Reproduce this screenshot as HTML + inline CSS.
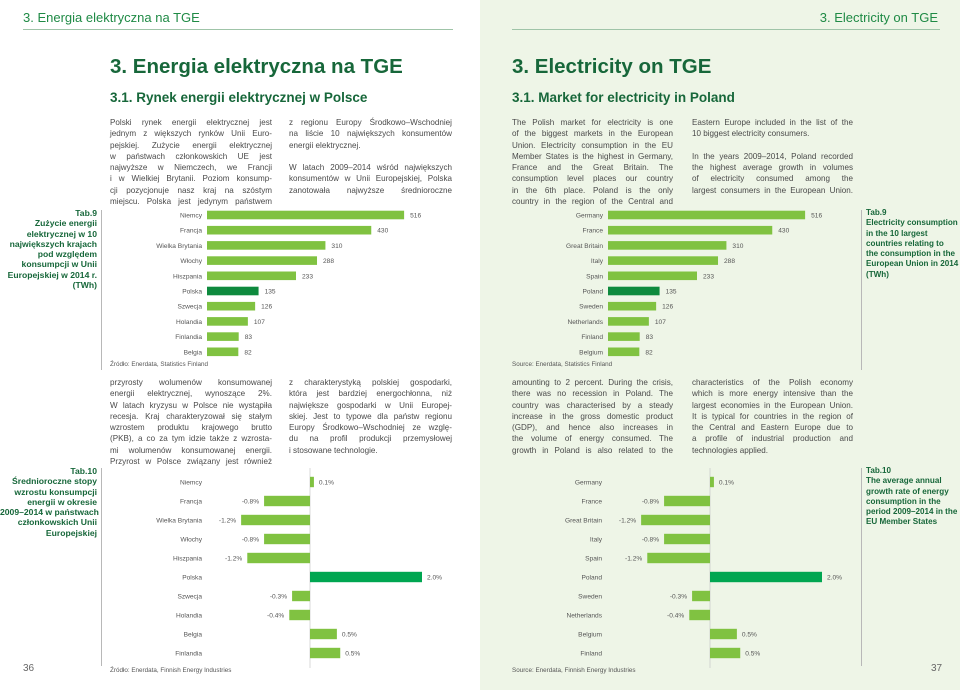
<!DOCTYPE html>
<html><head><meta charset="utf-8">
<style>
body{margin:0;width:960px;height:690px;position:relative;overflow:hidden;font-family:"Liberation Sans",sans-serif;background:#fff}
.abs{position:absolute}
.rp{left:480px;top:0;width:480px;height:690px;background:#eef5e7}
.hdr{font-size:13px;color:#1f8a45;top:10px}
.rule{height:1px;background:#9fc4a8;top:29px}
.title{font-size:20.5px;font-weight:bold;color:#17673a;top:55px}
.sub{font-size:13.5px;font-weight:bold;color:#17673a;top:90px}
.body{font-size:8.1px;line-height:11.3px;color:#4a4a4a}
.body div{white-space:nowrap;text-align:justify;text-align-last:justify;height:11.3px}
.body div.l{text-align-last:left}
.body div.gap{height:11.3px}
.cap{font-size:8.6px;line-height:10.3px;font-weight:bold;color:#17673a;white-space:nowrap}
.capr{font-size:8.1px}
.vl{width:1px;background:#b8b8b8}
.src{font-size:6.3px;color:#555}
.pn{font-size:10px;color:#666}
</style></head><body>
<div class="abs rp"></div>
<div class="abs hdr" style="left:23px">3. Energia elektryczna na TGE</div>
<div class="abs rule" style="left:23px;width:430px"></div>
<div class="abs hdr" style="right:22px">3. Electricity on TGE</div>
<div class="abs rule" style="left:512px;width:428px"></div>
<div class="abs title" style="left:110px">3. Energia elektryczna na TGE</div>
<div class="abs title" style="left:512px">3. Electricity on TGE</div>
<div class="abs sub" style="left:110px">3.1. Rynek energii elektrycznej w Polsce</div>
<div class="abs sub" style="left:512px">3.1. Market for electricity in Poland</div>

<div class="abs body" style="left:110px;top:117px;width:162px">
<div>Polski rynek energii elektrycznej jest</div><div>jednym z większych rynków Unii Euro-</div><div>pejskiej. Zużycie energii elektrycznej</div><div>w państwach członkowskich UE jest</div><div>najwyższe w Niemczech, we Francji</div><div>i w Wielkiej Brytanii. Poziom konsump-</div><div>cji pozycjonuje nasz kraj na szóstym</div><div>miejscu. Polska jest jedynym państwem</div></div>
<div class="abs body" style="left:289px;top:117px;width:163px">
<div>z regionu Europy Środkowo–Wschodniej</div><div>na liście 10 największych konsumentów</div><div class="l">energii elektrycznej.</div><div class="gap"></div><div>W latach 2009–2014 wśród największych</div><div>konsumentów w Unii Europejskiej, Polska</div><div>zanotowała najwyższe średnioroczne</div></div>
<div class="abs body" style="left:512px;top:117px;width:161px">
<div>The Polish market for electricity is one</div><div>of the biggest markets in the European</div><div>Union. Electricity consumption in the EU</div><div>Member States is the highest in Germany,</div><div>France and the Great Britain. The</div><div>consumption level places our country</div><div>in the 6th place. Poland is the only</div><div>country in the region of the Central and</div></div>
<div class="abs body" style="left:692px;top:117px;width:161px">
<div>Eastern Europe included in the list of the</div><div class="l">10 biggest electricity consumers.</div><div class="gap"></div><div>In the years 2009–2014, Poland recorded</div><div>the highest average growth in volumes</div><div>of electricity consumed among the</div><div>largest consumers in the European Union.</div></div>

<div class="abs body" style="left:110px;top:377px;width:162px">
<div>przyrosty wolumenów konsumowanej</div><div>energii elektrycznej, wynoszące 2%.</div><div>W latach kryzysu w Polsce nie wystąpiła</div><div>recesja. Kraj charakteryzował się stałym</div><div>wzrostem produktu krajowego brutto</div><div>(PKB), a co za tym idzie także z wzrosta-</div><div>mi wolumenów konsumowanej energii.</div><div>Przyrost w Polsce związany jest również</div></div>
<div class="abs body" style="left:289px;top:377px;width:163px">
<div>z charakterystyką polskiej gospodarki,</div><div>która jest bardziej energochłonna, niż</div><div>największe gospodarki w Unii Europej-</div><div>skiej. Jest to typowe dla państw regionu</div><div>Europy Środkowo–Wschodniej ze wzglę-</div><div>du na profil produkcji przemysłowej</div><div class="l">i stosowane technologie.</div></div>
<div class="abs body" style="left:512px;top:377px;width:161px">
<div>amounting to 2 percent. During the crisis,</div><div>there was no recession in Poland. The</div><div>country was characterised by a steady</div><div>increase in the gross domestic product</div><div>(GDP), and hence also increases in</div><div>the volume of energy consumed. The</div><div>growth in Poland is also related to the</div></div>
<div class="abs body" style="left:692px;top:377px;width:161px">
<div>characteristics of the Polish economy</div><div>which is more energy intensive than the</div><div>largest economies in the European Union.</div><div>It is typical for countries in the region of</div><div>the Central and Eastern Europe due to</div><div>a profile of industrial production and</div><div class="l">technologies applied.</div></div>

<div class="abs cap" style="left:0;width:97px;top:208px;text-align:right">Tab.9<br>Zużycie energii<br>elektrycznej w 10<br>największych krajach<br>pod względem<br>konsumpcji w Unii<br>Europejskiej w 2014 r.<br>(TWh)</div>
<div class="abs vl" style="left:101px;top:210px;height:160px"></div>
<div class="abs cap" style="left:0;width:97px;top:466px;text-align:right">Tab.10<br>Średnioroczne stopy<br>wzrostu konsumpcji<br>energii w okresie<br>2009–2014 w państwach<br>członkowskich Unii<br>Europejskiej</div>
<div class="abs vl" style="left:101px;top:468px;height:198px"></div>
<div class="abs cap capr" style="left:866px;top:208px">Tab.9<br>Electricity consumption<br>in the 10 largest<br>countries relating to<br>the consumption in the<br>European Union in 2014<br>(TWh)</div>
<div class="abs vl" style="left:861px;top:210px;height:160px"></div>
<div class="abs cap capr" style="left:866px;top:466px">Tab.10<br>The average annual<br>growth rate of energy<br>consumption in the<br>period 2009–2014 in the<br>EU Member States</div>
<div class="abs vl" style="left:861px;top:468px;height:198px"></div>

<div class="abs src" style="left:110px;top:361px">Źródło: Enerdata, Statistics Finland</div>
<div class="abs src" style="left:512px;top:361px">Source: Enerdata, Statistics Finland</div>
<div class="abs src" style="left:110px;top:667px">Źródło: Enerdata, Finnish Energy Industries</div>
<div class="abs src" style="left:512px;top:667px">Source: Enerdata, Finnish Energy Industries</div>
<div class="abs pn" style="left:23px;top:663px">36</div>
<div class="abs pn" style="left:931px;top:663px">37</div>

<svg class="abs" style="left:0;top:0" width="960" height="690" id="charts"></svg>
<script>
const countriesPL = ["Niemcy","Francja","Wielka Brytania","Włochy","Hiszpania","Polska","Szwecja","Holandia","Finlandia","Belgia"];
const countriesEN = ["Germany","France","Great Britain","Italy","Spain","Poland","Sweden","Netherlands","Finland","Belgium"];
const consumptionTWh = [516,430,310,288,233,135,126,107,83,82];
const growthCountriesPL = ["Niemcy","Francja","Wielka Brytania","Włochy","Hiszpania","Polska","Szwecja","Holandia","Belgia","Finlandia"];
const growthCountriesEN = ["Germany","France","Great Britain","Italy","Spain","Poland","Sweden","Netherlands","Belgium","Finland"];
const growthValues = [0.07,-0.82,-1.23,-0.82,-1.12,2.0,-0.32,-0.37,0.48,0.54];
const growthLabels = ["0.1%","-0.8%","-1.2%","-0.8%","-1.2%","2.0%","-0.3%","-0.4%","0.5%","0.5%"];
const highlightIndex = 5;

const svg = document.getElementById('charts');
const NS = 'http://www.w3.org/2000/svg';
function mk(tag, attrs, txt){const e=document.createElementNS(NS,tag);for(const k in attrs)e.setAttribute(k,attrs[k]);if(txt!==undefined)e.textContent=txt;svg.appendChild(e);return e;}

function consumptionChart(x0, cats, tag){
  const xs = v => x0 + v*0.382;
  const ys = i => 215 + i*15.2;
  cats.forEach((c,i)=>{
    const l = mk('text',{x:x0-5,y:ys(i)+2.5,'font-size':'6.6','fill':'#555','text-anchor':'end','font-family':'Liberation Sans'},c);
    
    
    const b = mk('rect',{x:x0,y:ys(i)-4.3,width:xs(consumptionTWh[i])-x0,height:8.6,fill:i===highlightIndex?'#0e8a3e':'#80c241'});
    
    
    const v = mk('text',{x:xs(consumptionTWh[i])+6,y:ys(i)+2.5,'font-size':'6.6','fill':'#555','font-family':'Liberation Sans'},String(consumptionTWh[i]));
    
    
  });
}
function growthChart(zero, labelX, cats, tag){
  const xs = v => zero + v*56;
  const ys = i => 482 + i*19;
  const ax = mk('line',{x1:zero,y1:468,x2:zero,y2:668,stroke:'#c8c8c8','stroke-width':0.7});
  
  
  cats.forEach((c,i)=>{
    const val = growthValues[i];
    const l = mk('text',{x:labelX,y:ys(i)+2.5,'font-size':'6.6','fill':'#555','text-anchor':'end','font-family':'Liberation Sans'},c);
    
    
    const x1 = Math.min(xs(0),xs(val)), w = Math.abs(xs(val)-xs(0));
    const b = mk('rect',{x:x1,y:ys(i)-5.2,width:w,height:10.4,fill:i===highlightIndex?'#00a651':'#80c241'});
    
    
    const pos = val>=0;
    const v = mk('text',{x:pos?xs(val)+5:xs(val)-5,y:ys(i)+2.5,'font-size':'6.6','fill':'#555','text-anchor':pos?'start':'end','font-family':'Liberation Sans'},growthLabels[i]);
    
    
  });
}
consumptionChart(207, countriesPL, 'tab9-pl');
consumptionChart(608, countriesEN, 'tab9-en');
growthChart(310, 202, growthCountriesPL, 'tab10-pl');
growthChart(710, 602, growthCountriesEN, 'tab10-en');
</script>
</body></html>
